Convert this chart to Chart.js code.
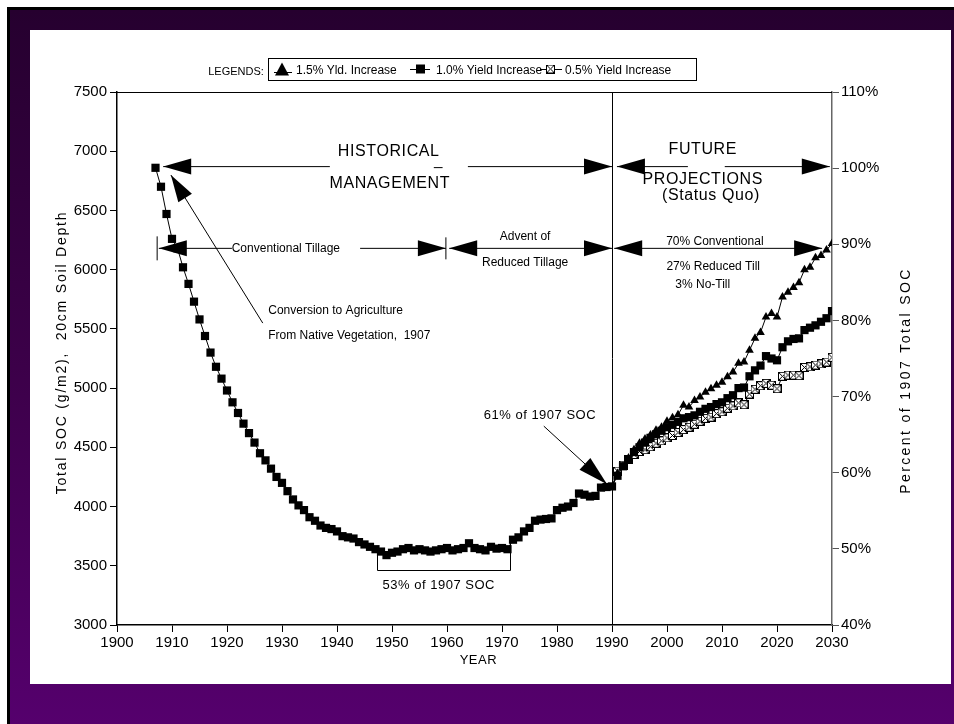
<!DOCTYPE html>
<html>
<head>
<meta charset="utf-8">
<script src="https://cdn.jsdelivr.net/npm/chart.js@4.4.1/dist/chart.umd.min.js"></script>
<style>
  html, body { margin: 0; padding: 0; background: #fff; width: 954px; height: 724px; overflow: hidden; }
  #frame {
    position: absolute; left: 7px; top: 7px; width: 947px; height: 717px; box-sizing: border-box;
    border-left: 3px solid #000; border-top: 3px solid #000;
    background: linear-gradient(180deg, #26002f 0%, #3c0049 50%, #55006d 100%);
  }
  #panel { position: absolute; left: 30px; top: 30px; width: 921px; height: 654px; background: #fff; }
  canvas { display: block; }
</style>
</head>
<body>
<div id="frame"></div>
<div id="panel"><canvas id="soc" width="921" height="654"></canvas></div>
<script>
// ---- Data -------------------------------------------------------------
// Historical total SOC (g/m2, 0-20 cm), one value per year 1907-1990
const historyYears = [
  1907, 1908, 1909, 1910, 1911, 1912, 1913, 1914, 1915, 1916,
  1917, 1918, 1919, 1920, 1921, 1922, 1923, 1924, 1925, 1926,
  1927, 1928, 1929, 1930, 1931, 1932, 1933, 1934, 1935, 1936,
  1937, 1938, 1939, 1940, 1941, 1942, 1943, 1944, 1945, 1946,
  1947, 1948, 1949, 1950, 1951, 1952, 1953, 1954, 1955, 1956,
  1957, 1958, 1959, 1960, 1961, 1962, 1963, 1964, 1965, 1966,
  1967, 1968, 1969, 1970, 1971, 1972, 1973, 1974, 1975, 1976,
  1977, 1978, 1979, 1980, 1981, 1982, 1983, 1984, 1985, 1986,
  1987, 1988, 1989, 1990
];
const historySOC = [
  6860, 6700, 6470, 6260, 6180, 6020, 5880, 5730, 5580, 5440,
  5300, 5180, 5080, 4980, 4880, 4790, 4700, 4620, 4540, 4450,
  4390, 4320, 4250, 4200, 4130, 4060, 4010, 3970, 3910, 3880,
  3840, 3820, 3810, 3790, 3750, 3740, 3730, 3700, 3680, 3660,
  3640, 3620, 3590, 3610, 3620, 3640, 3650, 3630, 3640, 3630,
  3620, 3630, 3640, 3650, 3630, 3640, 3650, 3690, 3650, 3640,
  3630, 3660, 3645, 3650, 3640, 3720, 3740, 3790, 3820, 3880,
  3890, 3895, 3900, 3970, 3990, 4000, 4030, 4110, 4100, 4085,
  4090, 4160, 4165, 4170
];

// Projected SOC under three yield-increase scenarios, 1991-2030
const projectionYears = [
  1991, 1992, 1993, 1994, 1995, 1996, 1997, 1998, 1999, 2000,
  2001, 2002, 2003, 2004, 2005, 2006, 2007, 2008, 2009, 2010,
  2011, 2012, 2013, 2014, 2015, 2016, 2017, 2018, 2019, 2020,
  2021, 2022, 2023, 2024, 2025, 2026, 2027, 2028, 2029, 2030
];
const yield15 = [
  4280, 4340, 4410, 4480, 4535, 4570, 4605, 4645, 4670, 4720,
  4750, 4775, 4855, 4840, 4895, 4925, 4965, 4995, 5025, 5050,
  5095, 5135, 5210, 5220, 5320, 5420, 5470, 5600, 5630, 5600,
  5770, 5810, 5850, 5890, 6000, 6020, 6100, 6120, 6165, 6220
];
const yield10 = [
  4260, 4340, 4400, 4460, 4500, 4540, 4580, 4610, 4640, 4670,
  4690, 4715, 4745, 4755, 4770, 4800, 4825, 4840, 4865, 4880,
  4915, 4940, 5000, 5005, 5100, 5150, 5190, 5270, 5250, 5235,
  5345, 5395, 5415, 5420, 5490, 5510, 5530, 5560, 5590, 5650
];
const yield05 = [
  4300, 4350, 4400, 4440, 4465, 4480, 4505, 4535, 4555, 4580,
  4600, 4625, 4650, 4670, 4695, 4720, 4745, 4755, 4785, 4800,
  4830, 4850, 4875, 4860, 4950, 4990, 5020, 5040, 5025, 4995,
  5100, 5110, 5110, 5105, 5175, 5180, 5195, 5205, 5220, 5260
];
const seriesLabels = ['1.5% Yld. Increase', '1.0% Yield Increase', '0.5% Yield Increase'];

// Axis ticks
const yearTicks = [1900, 1910, 1920, 1930, 1940, 1950, 1960, 1970, 1980, 1990, 2000, 2010, 2020, 2030];
const socTicks = [3000, 3500, 4000, 4500, 5000, 5500, 6000, 6500, 7000, 7500];
const pctTicks = [40, 50, 60, 70, 80, 90, 100, 110];

// ---- Styling helpers --------------------------------------------------
const FONT = '"Liberation Sans", Arial, "DejaVu Sans", sans-serif';

// open box with a cross, used for the 0.5% scenario
function makeCrossBox(size) {
  const c = document.createElement('canvas');
  c.width = size; c.height = size;
  const g = c.getContext('2d');
  g.fillStyle = '#fff'; g.fillRect(0, 0, size, size);
  g.strokeStyle = '#000'; g.lineWidth = 1;
  g.strokeRect(0.5, 0.5, size - 1, size - 1);
  g.beginPath();
  g.moveTo(0.5, 0.5); g.lineTo(size - 0.5, size - 0.5);
  g.moveTo(size - 0.5, 0.5); g.lineTo(0.5, size - 0.5);
  g.stroke();
  return c;
}
const crossBox = makeCrossBox(9);

const toPoints = (xs, ys) => xs.map((x, i) => ({ x: x, y: ys[i] }));
const lastHistory = { x: historyYears[historyYears.length - 1], y: historySOC[historySOC.length - 1] };
// projections start from the last historical year so the lines join up
const projection = vals => [lastHistory].concat(toPoints(projectionYears, vals));
const hideFirst = r => ctx => (ctx.dataIndex === 0 ? 0 : r);

// ---- Annotation layer -------------------------------------------------
function drawText(ctx, str, x, y, size, align, spacing) {
  ctx.font = size + 'px ' + FONT;
  ctx.letterSpacing = (spacing || 0) + 'px';
  ctx.textAlign = align || 'center';
  ctx.textBaseline = 'middle';
  ctx.fillText(str, x, y);
  ctx.letterSpacing = '0px';
}

const notesPlugin = {
  id: 'notes',
  beforeDatasetsDraw(chart) {
    const ctx = chart.ctx, a = chart.chartArea;
    const X = v => chart.scales.x.getPixelForValue(v);
    ctx.save();
    ctx.strokeStyle = '#000';
    ctx.lineWidth = 1.2;
    // top frame line
    ctx.beginPath(); ctx.moveTo(a.left, a.top + 0.5); ctx.lineTo(a.right, a.top + 0.5); ctx.stroke();
    // divider between historical and projected periods
    ctx.lineWidth = 1;
    const xd = Math.round(X(1990)) + 0.5;
    ctx.beginPath(); ctx.moveTo(xd, a.top); ctx.lineTo(xd, a.bottom); ctx.stroke();
    ctx.restore();
  },
  afterDatasetsDraw(chart) {
    const ctx = chart.ctx, a = chart.chartArea;
    const X = v => chart.scales.x.getPixelForValue(v);
    const Y = v => chart.scales.y.getPixelForValue(v);
    ctx.save();
    ctx.strokeStyle = '#000'; ctx.fillStyle = '#000'; ctx.lineWidth = 1;

    const line = (x1, y1, x2, y2) => { ctx.beginPath(); ctx.moveTo(x1, y1); ctx.lineTo(x2, y2); ctx.stroke(); };
    const head = (tx, ty, fx, fy, len, half) => {
      const ang = Math.atan2(ty - fy, tx - fx);
      const bx = tx - len * Math.cos(ang), by = ty - len * Math.sin(ang);
      const nx = -Math.sin(ang) * half, ny = Math.cos(ang) * half;
      ctx.beginPath(); ctx.moveTo(tx, ty); ctx.lineTo(bx + nx, by + ny); ctx.lineTo(bx - nx, by - ny);
      ctx.closePath(); ctx.fill();
    };
    const arrow = (x1, v1, x2, v2, both, len, half) => {
      len = len || 28; half = half || 8;
      const ax = X(x1), ay = Y(v1), bx = X(x2), by = Y(v2);
      line(ax, ay, bx, by);
      head(bx, by, ax, ay, len, half);
      if (both) head(ax, ay, bx, by, len, half);
    };
    const bar = (x, v, h) => line(X(x), Y(v) - h, X(x), Y(v) + h);

    // period headings
    const row1 = 6870;
    arrow(1938.7, row1, 1908.4, row1);
    line(X(1957.6), Y(row1) + 1, X(1959.2), Y(row1) + 1);
    arrow(1963.8, row1, 1990.0, row1);
    arrow(2003.8, row1, 1990.9, row1);
    arrow(2010.5, row1, 2029.6, row1);
    drawText(ctx, 'HISTORICAL', X(1949.4), Y(6995), 16, 'center', 0.6);
    drawText(ctx, 'MANAGEMENT', X(1949.6), Y(6730), 16, 'center', 0.6);
    drawText(ctx, 'FUTURE', X(2006.5), Y(7010), 16, 'center', 0.6);
    drawText(ctx, 'PROJECTIONS', X(2006.5), Y(6762), 16, 'center', 0.6);
    drawText(ctx, '(Status Quo)', X(2008.0), Y(6625), 16, 'center', 0.6);

    // tillage periods
    const row2 = 6180;
    bar(1907.3, row2, 12);
    arrow(1920.9, row2, 1907.6, row2);
    drawText(ctx, 'Conventional Tillage', X(1930.7), Y(row2), 12, 'center');
    arrow(1944.2, row2, 1959.8, row2);
    bar(1959.8, row2, 11);
    arrow(1960.4, row2, 1990.0, row2, true);
    drawText(ctx, 'Advent of', X(1974.2), Y(6275), 12, 'center');
    drawText(ctx, 'Reduced Tillage', X(1974.2), Y(6056), 12, 'center');
    arrow(1990.4, row2, 2028.2, row2, true);
    drawText(ctx, '70% Conventional', X(2008.7), Y(6240), 12, 'center');
    drawText(ctx, '27% Reduced Till', X(2008.4), Y(6022), 12, 'center');
    drawText(ctx, '3% No-Till', X(2006.5), Y(5870), 12, 'center');

    // conversion to agriculture
    arrow(1926.5, 5549, 1909.8, 6799, false, 27, 8);
    drawText(ctx, 'Conversion to Agriculture', X(1927.5), Y(5650), 12, 'left');
    drawText(ctx, 'From Native Vegetation,  1907', X(1927.5), Y(5439), 12, 'left');

    // minimum plateau
    const xl = Math.round(X(1947.3)) + 0.5, xr = Math.round(X(1971.5)) + 0.5, yb = Math.round(Y(3463)) + 0.5;
    line(xl, Y(3632), xl, yb);
    line(xl, yb, xr, yb);
    line(xr, Y(3716), xr, yb);
    drawText(ctx, '53% of 1907 SOC', X(1958.5), Y(3336), 13, 'center', 0.5);

    // level reached by 1990
    drawText(ctx, '61% of 1907 SOC', X(1976.9), Y(4772), 13, 'center', 0.5);
    arrow(1977.6, 4679, 1989.1, 4189, false, 30, 8);

    // axis titles
    ctx.save();
    ctx.translate(32, (a.top + a.bottom) / 2 - 6);
    ctx.rotate(-Math.PI / 2);
    drawText(ctx, 'Total SOC (g/m2),  20cm Soil Depth', 0, 0, 14, 'center', 1.8);
    ctx.restore();
    ctx.save();
    ctx.translate(876, (a.top + a.bottom) / 2 + 22);
    ctx.rotate(-Math.PI / 2);
    drawText(ctx, 'Percent of 1907 Total SOC', 0, 0, 14, 'center', 2.4);
    ctx.restore();
    drawText(ctx, 'YEAR', X(1965.7), 630, 13, 'center', 0.5);

    ctx.restore();
  },
  afterDraw(chart) {
    // legend box at the top
    const ctx = chart.ctx;
    ctx.save();
    ctx.strokeStyle = '#000'; ctx.fillStyle = '#000'; ctx.lineWidth = 1;
    drawText(ctx, 'LEGENDS:', 206, 42, 11, 'center');
    ctx.strokeRect(238.5, 28.5, 428, 22);
    const cy = 39.5;
    // 1.5% marker: triangle
    ctx.beginPath(); ctx.moveTo(244, cy + 3); ctx.lineTo(262, cy + 3); ctx.stroke();
    ctx.beginPath(); ctx.moveTo(252, cy - 7); ctx.lineTo(259, cy + 6); ctx.lineTo(245, cy + 6); ctx.closePath(); ctx.fill();
    drawText(ctx, seriesLabels[0], 266, cy + 1, 12, 'left');
    // 1.0% marker: filled square
    ctx.beginPath(); ctx.moveTo(380, cy); ctx.lineTo(400, cy); ctx.stroke();
    ctx.fillRect(386, cy - 5, 9, 9);
    drawText(ctx, seriesLabels[1], 406, cy + 1, 12, 'left');
    // 0.5% marker: crossed box
    ctx.beginPath(); ctx.moveTo(510, cy); ctx.lineTo(532, cy); ctx.stroke();
    ctx.drawImage(crossBox, 516, cy - 5);
    drawText(ctx, seriesLabels[2], 535, cy + 1, 12, 'left');
    ctx.restore();
  }
};

// ---- Chart ------------------------------------------------------------
const tickFont = { family: FONT, size: 15 };

new Chart(document.getElementById('soc'), {
  type: 'line',
  data: {
    datasets: [
      {
        label: 'Historical',
        data: toPoints(historyYears, historySOC),
        borderColor: '#000', borderWidth: 1,
        pointStyle: 'rect', pointRadius: 5.8, pointBackgroundColor: '#000', pointBorderWidth: 0,
        order: 3
      },
      {
        label: seriesLabels[0],
        data: projection(yield15),
        borderColor: '#000', borderWidth: 1,
        pointStyle: 'triangle', pointRadius: hideFirst(5), pointBackgroundColor: '#000', pointBorderWidth: 0,
        order: 0
      },
      {
        label: seriesLabels[1],
        data: projection(yield10),
        borderColor: '#000', borderWidth: 1,
        pointStyle: 'rect', pointRadius: hideFirst(5.8), pointBackgroundColor: '#000', pointBorderWidth: 0,
        order: 1
      },
      {
        label: seriesLabels[2],
        data: projection(yield05),
        borderColor: '#000', borderWidth: 1,
        pointStyle: crossBox, pointRadius: hideFirst(4.5),
        order: 2
      }
    ]
  },
  options: {
    responsive: false,
    animation: false,
    devicePixelRatio: 1,
    layout: { padding: { top: 62, left: 0, right: 0, bottom: 0 } },
    plugins: { legend: { display: false }, tooltip: { enabled: false } },
    elements: { line: { tension: 0 } },
    scales: {
      x: {
        type: 'linear', min: 1900, max: 2030,
        afterBuildTicks: s => { s.ticks = yearTicks.map(v => ({ value: v })); },
        afterFit: s => { s.height = 59; },
        ticks: { font: tickFont, color: '#000', padding: 2, maxRotation: 0, autoSkip: false, callback: v => String(v) },
        grid: { drawOnChartArea: false, tickLength: 7, color: '#000', lineWidth: 1 },
        border: { display: true, color: '#000', width: 1.5 }
      },
      y: {
        type: 'linear', position: 'left', min: 3000, max: 7500,
        afterBuildTicks: s => { s.ticks = socTicks.map(v => ({ value: v })); },
        afterFit: s => { s.width = 87; },
        ticks: { font: tickFont, color: '#000', padding: 3, autoSkip: false, callback: v => String(v) },
        grid: { drawOnChartArea: false, tickLength: 7, color: '#000', lineWidth: 1 },
        border: { display: true, color: '#000', width: 1.5 }
      },
      y2: {
        type: 'linear', position: 'right', min: 40, max: 110,
        afterBuildTicks: s => { s.ticks = pctTicks.map(v => ({ value: v })); },
        afterFit: s => { s.width = 119; },
        ticks: { font: tickFont, color: '#000', padding: 2, autoSkip: false, callback: v => v + '%' },
        grid: { drawOnChartArea: false, tickLength: 7, color: '#555', lineWidth: 1 },
        border: { display: true, color: '#666', width: 1.5 }
      }
    }
  },
  plugins: [notesPlugin]
});
</script>
</body>
</html>
